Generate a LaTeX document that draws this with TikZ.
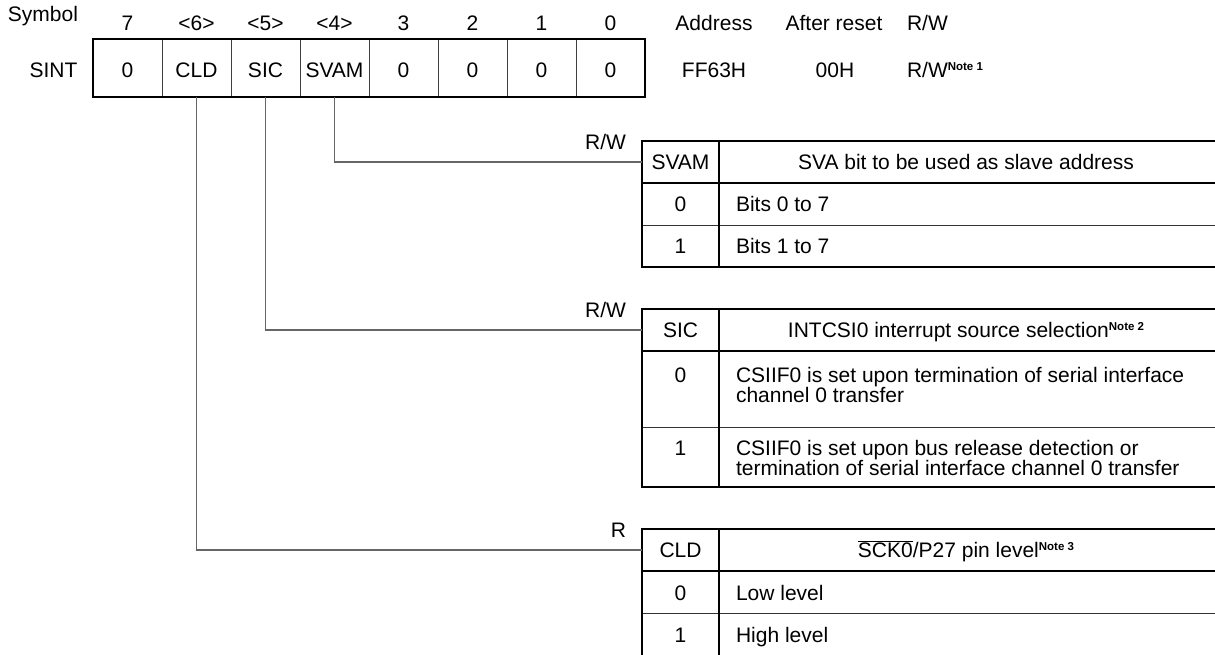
\documentclass[tikz,border=0pt]{standalone}
\usepackage{fontspec}
\setmainfont{Liberation Sans}
\usetikzlibrary{calc}
\newcommand{\notesup}[1]{\raisebox{6.8pt}{\fontsize{11.5}{11.5}\selectfont\bfseries #1}}
\begin{document}
\begin{tikzpicture}[x=1pt,y=-1pt,
  every node/.style={inner sep=0pt, outer sep=0pt, font=\fontsize{21}{22}\selectfont},
  txt/.style={text height=15pt, text depth=0pt},
  heavy/.style={line width=2.5pt},
  light/.style={line width=1pt, draw=black!80},
  wire/.style={line width=1.1pt, draw=black!60},
  regcell/.style={draw=black!75, line width=1pt, minimum width=69pt, minimum height=58pt, anchor=north west},
  keycell/.style={txt, minimum width=77pt, minimum height=42pt, anchor=north west},
  rwlabel/.style={anchor=base east}]
\useasboundingbox (0,0) rectangle (1215,654);
\clip (0,0) rectangle (1215,654);

% ---------- register ----------
\node[txt] (sym) at (43,14) {Symbol};
\node[txt] (sint) at (53.5,70) {SINT};
\foreach \i/\n/\t [count=\k from 0] in {7/7/0,6/<6>/CLD,5/<5>/SIC,4/<4>/SVAM,3/3/0,2/2/0,1/1/0,0/0/0} {
  \node[regcell] (b\i) at ({93+69*\k},39) {};
  \node[txt] (bt\i) at ({127.5+69*\k},70) {\t};
  \node[txt] (bn\i) at ({127.5+69*\k},23) {\n};
}
\draw[heavy] (b7.north west) rectangle (b0.south east);

\node[txt] (addr) at (714,23) {Address};
\node[txt] (reset) at (834,23) {After reset};
\node[txt, anchor=west] (rw) at (907,23) {R/W};
\node[txt] (addrv) at (714,70) {FF63H};
\node[txt] (resetv) at (835,70) {00H};
\node[txt, anchor=west] (rwv) at (907,70) {R/W\notesup{Note 1}};

% ---------- table 1 : SVAM ----------
\draw[light] (642,225) -- (1230,225);
\draw[heavy] (1230,141) -| (642,267) -- (1230,267);
\draw[heavy] (642,183) -- (1230,183);
\draw[heavy] (719,141) -- (719,267);
\node[keycell] (k1) at (642,141) {SVAM};
\node[txt] (h1) at (966,162) {SVA bit to be used as slave address};
\node[txt] (v10) at (680.5,204) {0};
\node[txt, anchor=west] (d10) at (736,204) {Bits 0 to 7};
\node[txt] (v11) at (680.5,246) {1};
\node[txt, anchor=west] (d11) at (736,246) {Bits 1 to 7};
\node[rwlabel] (l1) at ($(k1.west)+(-16,-13)$) {R/W};

% ---------- table 2 : SIC ----------
\draw[light] (642,427) -- (1230,427);
\draw[heavy] (1230,309) -| (642,487) -- (1230,487);
\draw[heavy] (642,351) -- (1230,351);
\draw[heavy] (719,309) -- (719,487);
\node[keycell] (k2) at (642,309) {SIC};
\node[txt] (h2) at (966,330) {INTCSI0 interrupt source selection\notesup{Note 2}};
\node[txt] (v20) at (680.5,375) {0};
\node[txt, anchor=west] (d20a) at (736,375) {CSIIF0 is set upon termination of serial interface};
\node[txt, anchor=west] (d20b) at (736,395) {channel 0 transfer};
\node[txt] (v21) at (680.5,448) {1};
\node[txt, anchor=west] (d21a) at (736,448) {CSIIF0 is set upon bus release detection or};
\node[txt, anchor=west] (d21b) at (736,468) {termination of serial interface channel 0 transfer};
\node[rwlabel] (l2) at ($(k2.west)+(-16,-13)$) {R/W};

% ---------- table 3 : CLD ----------
\draw[light] (642,613) -- (1230,613);
\draw[heavy] (1230,529) -| (642,670);
\draw[heavy] (642,571) -- (1230,571);
\draw[heavy] (719,529) -- (719,670);
\node[keycell] (k3) at (642,529) {CLD};
\node[txt] (h3) at (966,550) {$\overline{\mbox{SCK0}}$/P27 pin level\notesup{Note 3}};
\node[txt] (v30) at (680.5,593) {0};
\node[txt, anchor=west] (d30) at (736,593) {Low level};
\node[txt] (v31) at (680.5,635) {1};
\node[txt, anchor=west] (d31) at (736,635) {High level};
\node[rwlabel] (l3) at ($(k3.west)+(-16,-13)$) {R};

% ---------- connectors ----------
\draw[wire] (b4.south) |- (k1.west);
\draw[wire] (b5.south) |- (k2.west);
\draw[wire] (b6.south) |- (k3.west);
\end{tikzpicture}
\end{document}
